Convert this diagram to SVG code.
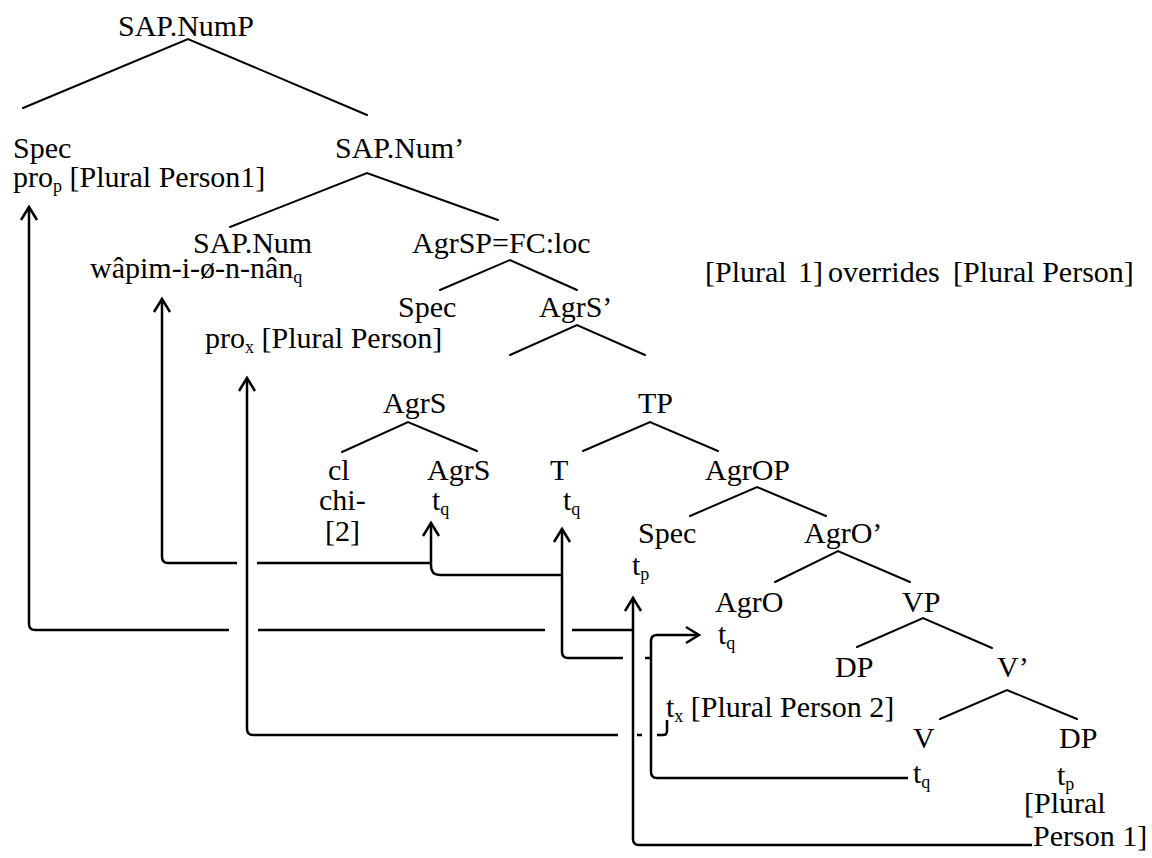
<svg xmlns="http://www.w3.org/2000/svg" width="1152" height="858" viewBox="0 0 1152 858">
<style>
text { font-family: "Liberation Serif", "Times New Roman", serif; font-size: 30px; fill: #000; }
.sub { font-size: 18px; }
.br { stroke: #000; stroke-width: 2; fill: none; stroke-linecap: round; }
.mv { stroke: #000; stroke-width: 2.5; fill: none; stroke-linejoin: round; }
</style>
<defs>
<marker id="ah" markerUnits="userSpaceOnUse" markerWidth="1" markerHeight="1" refX="0" refY="0" orient="auto" overflow="visible">
<path d="M-13,-8 L0,0 L-13,8" fill="none" stroke="#000" stroke-width="2.5" stroke-linejoin="miter"/>
</marker>
</defs>
<rect width="1152" height="858" fill="#fff"/>

<g id="connectors">
<g id="branches">
<path class="br" d="M23,108 L188,39 L367,115"/>
<path class="br" d="M230,227 L367,173 L498,220"/>
<path class="br" d="M440,290 L510,260 L577,290"/>
<path class="br" d="M510,355 L577,325 L645,355"/>
<path class="br" d="M342,452 L408,422 L477,451"/>
<path class="br" d="M583,451 L650,422 L718,451"/>
<path class="br" d="M690,516 L757,487 L826,516"/>
<path class="br" d="M775,582 L838,551 L910,582"/>
<path class="br" d="M857,647 L923,618 L992,648"/>
<path class="br" d="M940,719 L1007,690 L1077,719"/>
</g>
<g id="movement">
<!-- p chain -->
<path class="mv" d="M1032,845 L639,845 Q633,845 633,839 L633,598" marker-end="url(#ah)"/>
<path class="mv" d="M633,630 L572,630"/>
<path class="mv" d="M545,630 L258,630"/>
<path class="mv" d="M229,630 L35,630 Q29,630 29,624 L29,207" marker-end="url(#ah)"/>
<!-- x chain -->
<path class="mv" d="M667,720 L667,731 Q667,735 663,735 L657,735"/>
<path class="mv" d="M642,735 L637,735"/>
<path class="mv" d="M618,735 L253,735 Q247,735 247,729 L247,378" marker-end="url(#ah)"/>
<!-- q chain -->
<path class="mv" d="M908,778 L657,778 Q651,778 651,772 L651,641 Q651,635 657,635 L699,635" marker-end="url(#ah)"/>
<path class="mv" d="M651,658 L645,658"/>
<path class="mv" d="M623,658 L568,658 Q562,658 562,652 L562,529" marker-end="url(#ah)"/>
<path class="mv" d="M562,575 L440,575 Q431,575 431,566 L431,523" marker-end="url(#ah)"/>
<path class="mv" d="M431,563 L257,563"/>
<path class="mv" d="M237,563 L168,563 Q162,563 162,557 L162,299" marker-end="url(#ah)"/>
</g>
</g>

<g id="n-sapnump"><text x="118" y="36">SAP.NumP</text></g>
<g id="n-spec1"><text x="13" y="158">Spec</text><text x="13" y="187">pro<tspan class="sub" dy="5">p</tspan><tspan dy="-5"> [Plural Person1]</tspan></text></g>
<g id="n-sapnumbar"><text x="335" y="158">SAP.Num’</text></g>
<g id="n-sapnum"><text x="193" y="253">SAP.Num</text><text x="90" y="278">wâpim-i-ø-n-nân<tspan class="sub" dy="5">q</tspan></text></g>
<g id="n-agrsp"><text x="412" y="253">AgrSP=FC:loc</text></g>
<g id="n-note"><text y="282"><tspan x="705">[Plural</tspan><tspan x="798">1]</tspan><tspan x="828">overrides</tspan><tspan x="953">[Plural Person]</tspan></text></g>
<g id="n-spec2"><text x="398" y="317">Spec</text><text x="205" y="348">pro<tspan class="sub" dy="5">x</tspan><tspan dy="-5"> [Plural Person]</tspan></text></g>
<g id="n-agrsbar"><text x="539" y="317">AgrS’</text></g>
<g id="n-agrs"><text x="383" y="413">AgrS</text></g>
<g id="n-tp"><text x="638" y="413">TP</text></g>
<g id="n-cl"><text x="328" y="480">cl</text><text x="319" y="510">chi-</text><text x="325" y="541">[2]</text></g>
<g id="n-agrs2"><text x="427" y="480">AgrS</text><text x="432" y="510">t<tspan class="sub" dy="5">q</tspan></text></g>
<g id="n-t"><text x="550" y="480">T</text><text x="563" y="510">t<tspan class="sub" dy="5">q</tspan></text></g>
<g id="n-agrop"><text x="705" y="480">AgrOP</text></g>
<g id="n-spec3"><text x="638" y="543">Spec</text><text x="632" y="575">t<tspan class="sub" dy="5">p</tspan></text></g>
<g id="n-agrobar"><text x="804" y="543">AgrO’</text></g>
<g id="n-agro"><text x="715" y="612">AgrO</text><text x="718" y="644">t<tspan class="sub" dy="5">q</tspan></text></g>
<g id="n-vp"><text x="902" y="612">VP</text></g>
<g id="n-dp1"><text x="835" y="677">DP</text><text x="666" y="717">t<tspan class="sub" dy="5">x</tspan><tspan dy="-5"> [Plural Person 2]</tspan></text></g>
<g id="n-vbar"><text x="997" y="677">V’</text></g>
<g id="n-v"><text x="913" y="748">V</text><text x="913" y="783">t<tspan class="sub" dy="5">q</tspan></text></g>
<g id="n-dp2"><text x="1059" y="748">DP</text><text x="1057" y="785">t<tspan class="sub" dy="5">p</tspan></text><text x="1024" y="813">[Plural</text><text x="1033" y="846">Person 1]</text></g>
</svg>
